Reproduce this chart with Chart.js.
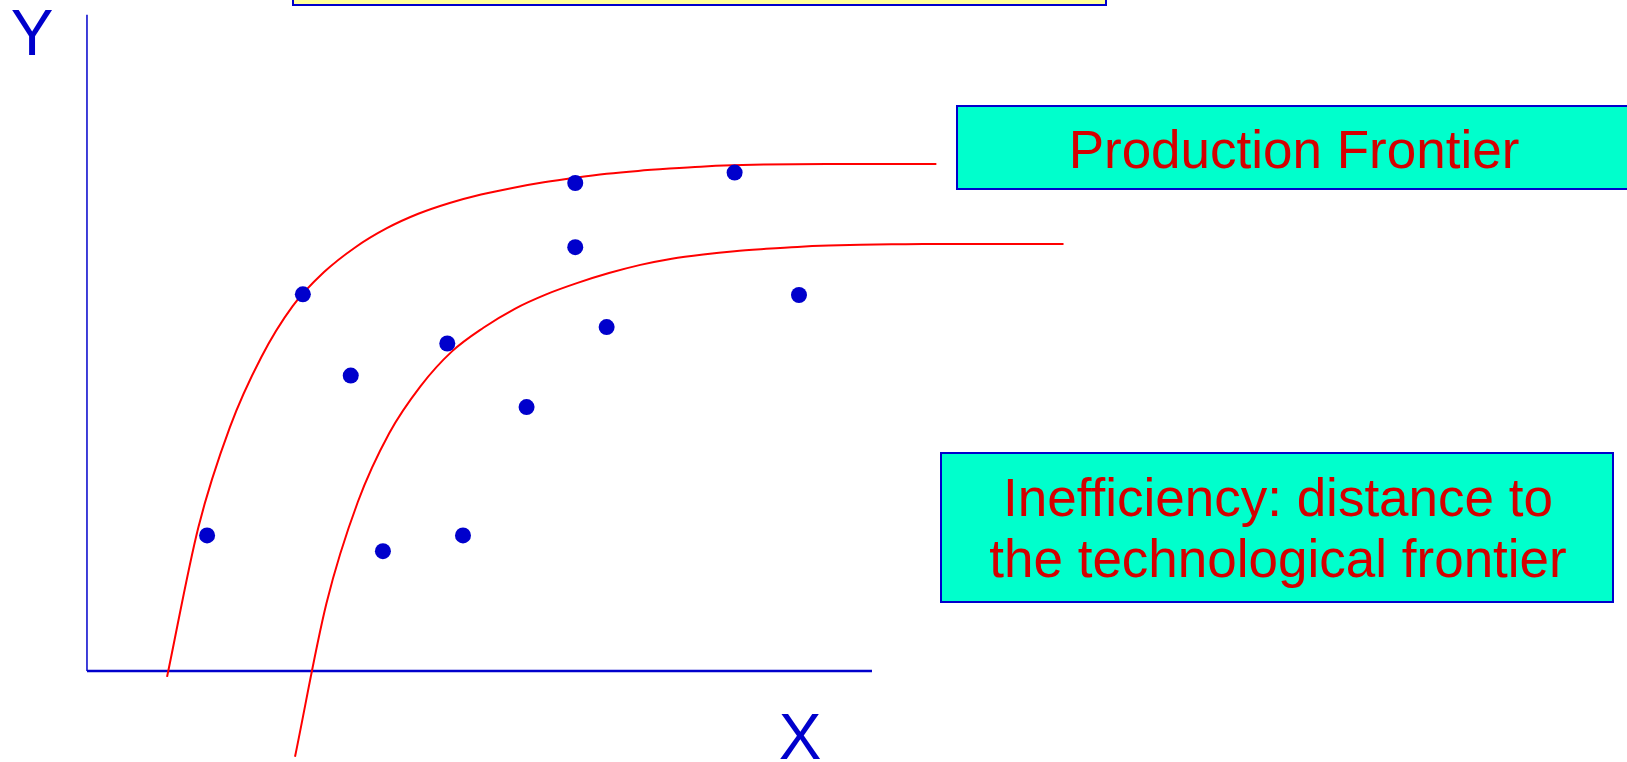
<!DOCTYPE html>
<html>
<head>
<meta charset="utf-8">
<title>Production Frontier</title>
<script src="https://cdn.jsdelivr.net/npm/chart.js@4.4.1/dist/chart.umd.min.js"></script>
<style>
    html, body { margin: 0; padding: 0; background: #fff; overflow: hidden; }
    #wrap { position: relative; width: 1627px; height: 762px; }
    #wrap canvas { position: absolute; left: 0; top: 0; }
    .lbl { position: absolute; font-family: 'Liberation Sans', Arial, sans-serif; white-space: nowrap; }
    .axis-name { font-size: 64px; line-height: 64px; color: #0000cc; width: 80px; text-align: center; }
    .box { position: absolute; box-sizing: border-box; border: 2px solid #0000cc; }
    .box-note { background: #00ffcc; }
    .note { font-size: 53px; color: #d40000; text-align: center; }
</style>
</head>
<body>
<div id="wrap">
    <canvas id="chart" width="1627" height="762"></canvas>
    <div class="box" style="left:292px; top:-20px; width:815px; height:26px; background:#ffff99;"></div>
    <div class="box box-note" style="left:956px; top:105px; width:690px; height:85px;"></div>
    <div class="box box-note" style="left:940px; top:452px; width:674px; height:151px;"></div>
    <div class="lbl axis-name" style="left:-8px; top:1px;">Y</div>
    <div class="lbl axis-name" style="left:760px; top:705px;">X</div>
    <div class="lbl note" style="left:994px; top:123px; width:600px; line-height:53px;">Production Frontier</div>
    <div class="lbl note" style="left:978px; top:467px; width:600px; line-height:61px;">Inefficiency: distance to<br>the technological frontier</div>
</div>
<script>
// observed firms (input x, output y)
const firmX = [1.53, 2.75, 3.36, 3.77, 4.59, 4.79, 5.60, 6.22, 6.22, 6.62, 8.25, 9.07]
const firmY = [2.07, 5.75, 4.51, 1.83, 5.00, 2.07, 4.03, 7.45, 6.47, 5.25, 7.61, 5.74]

const frontierX = [1.02, 1.42, 1.82, 2.22, 2.62, 3.02, 3.42, 3.82, 4.22, 4.62, 5.02, 5.42, 5.82,
    6.22, 6.62, 7.02, 7.42, 7.82, 8.22, 8.62, 9.02, 9.42, 9.82, 10.22, 10.62, 10.82]
const frontierY = [-0.09, 2.20, 3.72, 4.79, 5.57, 6.09, 6.47, 6.76, 6.98, 7.145, 7.275, 7.375, 7.46,
    7.53, 7.59, 7.635, 7.67, 7.70, 7.72, 7.732, 7.738, 7.74, 7.74, 7.74, 7.74, 7.74]

// inner curve (firms below the frontier)
const innerX = [2.65, 3.05, 3.45, 3.85, 4.25, 4.65, 5.05, 5.45, 5.85, 6.25, 6.65, 7.05, 7.45,
    7.85, 8.25, 8.65, 9.05, 9.45, 9.85, 10.25, 10.65, 11.05, 11.45, 11.85, 12.25, 12.44]
const innerY = [-1.31, 1.03, 2.58, 3.63, 4.35, 4.88, 5.24, 5.53, 5.75, 5.925, 6.075, 6.20, 6.295,
    6.36, 6.41, 6.445, 6.475, 6.495, 6.507, 6.515, 6.52, 6.52, 6.52, 6.52, 6.52, 6.52]

// drawn axes
const axisXEnd = 10
const axisYEnd = 10.02

const toPoints = (xs, ys) => xs.map((x, i) => ({ x: x, y: ys[i] }))

const canvas = document.getElementById('chart')

new Chart(canvas, {
    type: 'scatter',
    data: {
        datasets: [
            {
                label: 'Firms',
                data: toPoints(firmX, firmY),
                backgroundColor: '#0000cc',
                borderWidth: 0,
                pointRadius: 8,
                showLine: false,
                order: 0,
            },
            {
                label: 'Production frontier',
                data: toPoints(frontierX, frontierY),
                borderColor: '#ff0000',
                borderWidth: 2,
                pointRadius: 0,
                showLine: true,
                cubicInterpolationMode: 'monotone',
                order: 1,
            },
            {
                label: 'Inner frontier',
                data: toPoints(innerX, innerY),
                borderColor: '#ff0000',
                borderWidth: 2,
                pointRadius: 0,
                showLine: true,
                cubicInterpolationMode: 'monotone',
                order: 1,
            },
            {
                label: 'Y axis',
                data: [{ x: 0, y: 0 }, { x: 0, y: axisYEnd }],
                borderColor: '#0000cc',
                borderWidth: 1.5,
                pointRadius: 0,
                showLine: true,
                order: 2,
            },
            {
                label: 'X axis',
                data: [{ x: 0, y: 0 }, { x: axisXEnd, y: 0 }],
                borderColor: '#0000cc',
                borderWidth: 2.5,
                pointRadius: 0,
                showLine: true,
                order: 2,
            },
        ]
    },
    options: {
        responsive: false,
        animation: false,
        layout: { padding: 0, autoPadding: false },
        plugins: {
            legend: { display: false },
            tooltip: { enabled: false },
        },
        scales: {
            x: { type: 'linear', min: -1.108, max: 19.618, display: false },
            y: { type: 'linear', min: -1.389, max: 10.244, display: false },
        }
    }
})
</script>
</body>
</html>
